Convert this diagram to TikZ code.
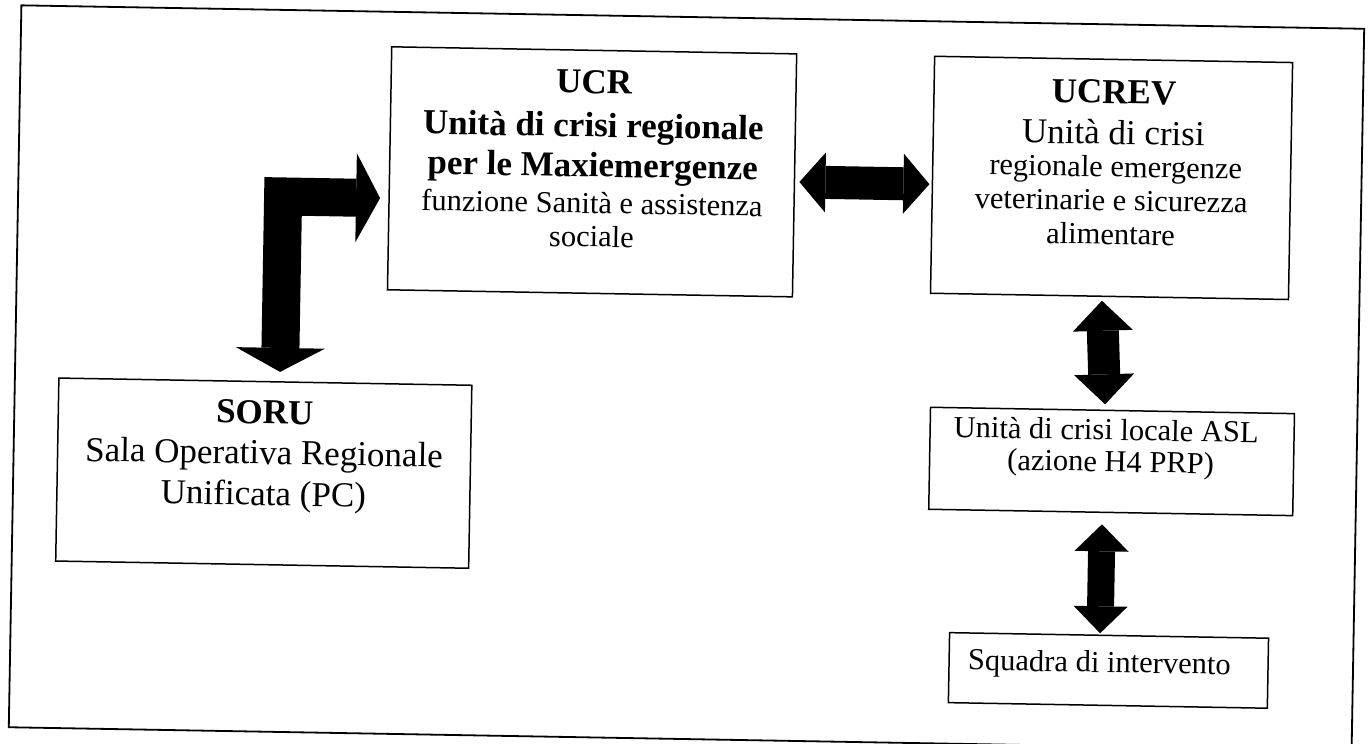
\documentclass[tikz,border=0pt]{standalone}
\usepackage{fontspec}
\setmainfont{Liberation Serif}
\usetikzlibrary{arrows.meta,calc}
\newcommand\fBigB{\fontsize{35pt}{40pt}\selectfont\bfseries}
\newcommand\fBig{\fontsize{35pt}{40pt}\selectfont}
\newcommand\fSmall{\fontsize{30.5pt}{34pt}\selectfont}
\begin{document}
\begin{tikzpicture}[x=1pt,y=-1pt,
  box/.style={draw, line width=1.5pt, rectangle, inner sep=0pt, outer sep=0pt},
  txt/.style={inner sep=0pt, outer sep=0pt, anchor=base},
  elbowarrow/.style={line width=38pt, line join=miter,
    arrows={Triangle[width=89pt,length=24pt,line width=0pt]-Triangle[width=89pt,length=24pt,line width=0pt]}},
  harrow/.style={line width=33pt,
    arrows={Triangle[width=60pt,length=26pt,line width=0pt]-Triangle[width=60pt,length=26pt,line width=0pt]}},
  varrowA/.style={line width=32pt,
    arrows={Triangle[width=60pt,length=30pt,line width=0pt]-Triangle[width=60pt,length=30pt,line width=0pt]}},
  varrowB/.style={line width=27pt,
    arrows={Triangle[width=54pt,length=27pt,line width=0pt]-Triangle[width=54pt,length=27pt,line width=0pt]}}]
\useasboundingbox (0,0) rectangle (1368,744);
\fill[white] (0,0) rectangle (1368,744);
\begin{scope}[transform canvas={rotate around={-1:(686,377.5)}}]
  % outer frame
  \draw[line width=1.8pt] (15,17) rectangle (1358,739);
  % boxes
  \node[box, minimum width=405pt, minimum height=243pt] (ucr) at (588.5,173.5) {};
  \node[box, minimum width=358pt, minimum height=237pt] (ucrev) at (1108,170.5) {};
  \node[box, minimum width=413pt, minimum height=183pt] (soru) at (265.5,480.5) {};
  \node[box, minimum width=364pt, minimum height=102pt] (asl) at (1113,454) {};
  \node[box, minimum width=319pt, minimum height=70pt] (squadra) at (1113.5,663) {};
  % UCR text
  \node[txt, font=\fBigB] (ucrA) at (589,95) {UCR};
  \node[txt, font=\fBigB] (ucrB) at (589,138.5) {Unità di crisi regionale};
  \node[txt, font=\fBigB] (ucrC) at (589,178.5) {per le Maxiemergenze};
  \node[txt, font=\fSmall] (ucrD) at (589,215) {funzione Sanità e assistenza};
  \node[txt, font=\fSmall] (ucrE) at (589,248.5) {sociale};
  % UCREV text
  \node[txt, font=\fBigB] (ucrevA) at (1109,96) {UCREV};
  \node[txt, font=\fBig] (ucrevB) at (1109,137) {Unità di crisi};
  \node[txt, font=\fSmall] (ucrevC) at (1112,169.5) {regionale emergenze};
  \node[txt, font=\fSmall] (ucrevD) at (1108,203) {veterinarie e sicurezza};
  \node[txt, font=\fSmall] (ucrevE) at (1108,237) {alimentare};
  % SORU text
  \node[txt, font=\fBigB] (soruA) at (265.5,431) {SORU};
  \node[txt, font=\fBig] (soruB) at (265.5,471.6) {Sala Operativa Regionale};
  \node[txt, font=\fBig] (soruC) at (265.5,512.6) {Unificata (PC)};
  % ASL text
  \node[txt, font=\fSmall] (aslA) at (1107,432.6) {Unità di crisi locale ASL};
  \node[txt, font=\fSmall] (aslB) at (1112,464.3) {(azione H4 PRP)};
  % Squadra text
  \node[txt, font=\fSmall, anchor=base west] (squadraA) at (973,665) {Squadra di intervento};
  % connectors
  \draw[elbowarrow] ($(soru.north)+(14.5,-10)$) |- ($(ucr.west)+(-9,30)$);
  \draw[harrow] ($(ucr.east)+(5,6.5)$) -- ($(ucrev.west)+(-3,9.5)$);
  \draw[varrowA] ($(ucrev.south)+(-7.5,4.5)$) -- ($(asl.north)+(-7.5,-6)$);
  \draw[varrowB] ($(asl.south)+(-8.5,12)$) -- ($(squadra.north)+(-9,-2)$);
\end{scope}
\end{tikzpicture}
\end{document}
